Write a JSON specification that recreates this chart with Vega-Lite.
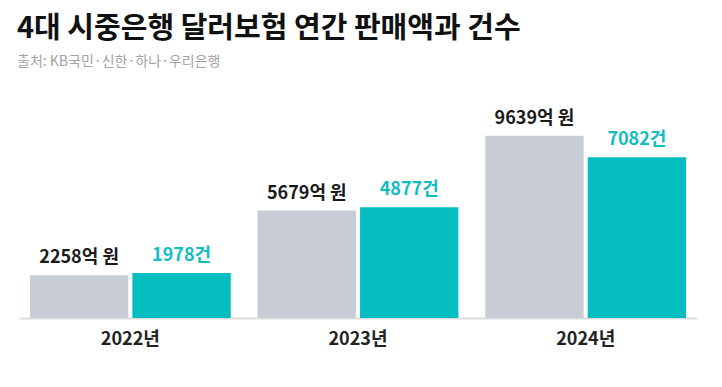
{
  "$schema": "https://vega.github.io/schema/vega-lite/v6.json",
  "width": 678,
  "height": 227,
  "autosize": "none",
  "padding": {"left": 19, "top": 91, "right": 25, "bottom": 69},
  "background": "white",
  "title": {
    "text": "4대 시중은행 달러보험 연간 판매액과 건수",
    "subtitle": "출처: KB국민·신한·하나·우리은행",
    "anchor": "start",
    "frame": "group",
    "dx": -2,
    "offset": 22,
    "font": "Noto Sans CJK KR",
    "fontSize": 29,
    "fontWeight": "bold",
    "color": "#111111",
    "subtitleFont": "Noto Sans CJK KR",
    "subtitleFontSize": 14,
    "subtitleColor": "#a3a3a3",
    "subtitlePadding": 11
  },
  "config": {"view": {"stroke": null}},
  "data": {
    "values": [
      {"year": "2022년", "series": "판매액", "value": 2258, "label": "2258억 원"},
      {"year": "2022년", "series": "건수", "value": 1978, "label": "1978건"},
      {"year": "2023년", "series": "판매액", "value": 5679, "label": "5679억 원"},
      {"year": "2023년", "series": "건수", "value": 4877, "label": "4877건"},
      {"year": "2024년", "series": "판매액", "value": 9639, "label": "9639억 원"},
      {"year": "2024년", "series": "건수", "value": 7082, "label": "7082건"}
    ]
  },
  "encoding": {
    "x": {
      "field": "year",
      "type": "nominal",
      "scale": {"paddingInner": 0.118, "paddingOuter": 0.048},
      "axis": {
        "title": null,
        "labelAngle": 0,
        "ticks": false,
        "domainColor": "#dcdcdc",
        "domainWidth": 2,
        "labelFont": "Noto Sans CJK KR",
        "labelFontSize": 18,
        "labelFontWeight": "bold",
        "labelColor": "#222222",
        "labelPadding": 12
      }
    },
    "xOffset": {
      "field": "series",
      "type": "nominal",
      "scale": {"domain": ["판매액", "건수"], "paddingInner": 0.04, "paddingOuter": 0}
    }
  },
  "layer": [
    {
      "transform": [{"filter": "datum.series === '판매액'"}],
      "encoding": {
        "y": {"field": "value", "type": "quantitative", "scale": {"domain": [0, 12000]}, "axis": null}
      },
      "layer": [
        {"mark": {"type": "bar", "color": "#c8ccd4"}},
        {
          "mark": {"type": "text", "baseline": "alphabetic", "dy": -12, "font": "Noto Sans CJK KR", "fontSize": 18, "fontWeight": "bold", "color": "#1a1a1a"},
          "encoding": {"text": {"field": "label"}}
        }
      ]
    },
    {
      "transform": [{"filter": "datum.series === '건수'"}],
      "encoding": {
        "y": {"field": "value", "type": "quantitative", "scale": {"domain": [0, 10000]}, "axis": null}
      },
      "layer": [
        {"mark": {"type": "bar", "color": "#04bdbf"}},
        {
          "mark": {"type": "text", "baseline": "alphabetic", "dy": -12, "font": "Noto Sans CJK KR", "fontSize": 18, "fontWeight": "bold", "color": "#12bdbf"},
          "encoding": {"text": {"field": "label"}}
        }
      ]
    }
  ],
  "resolve": {"scale": {"y": "independent"}}
}
